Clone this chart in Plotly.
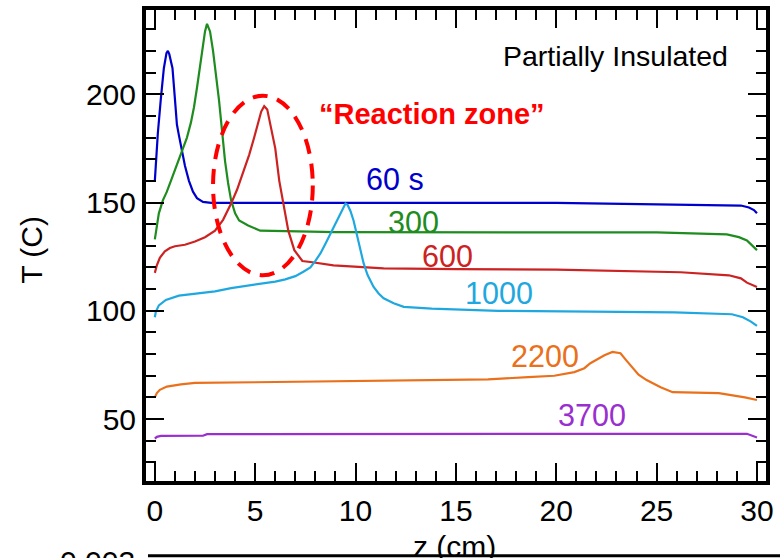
import plotly.graph_objects as go

# ---- data ----
z_60 = [0, 0.08, 0.15, 0.3, 0.45, 0.58, 0.65, 0.72, 0.88, 1.0, 1.1, 1.2, 1.35, 1.5, 1.7, 1.9, 2.1, 2.4, 2.8,
        10, 20, 29.2, 29.6, 29.85, 30]
T_60 = [160, 172, 182, 198, 212, 219, 220, 218.5, 212, 198, 186, 181, 174, 167, 160, 155, 152, 150.3, 149.8,
        149.8, 149.8, 148.6, 147.7, 146.5, 145]

z_300 = [0, 0.05, 0.2, 0.4, 0.6, 0.8, 1.0, 1.2, 1.4, 1.6, 1.8, 1.95, 2.1, 2.25, 2.4, 2.5, 2.6,
         2.75, 2.9, 3.05, 3.2, 3.35, 3.5, 3.65, 3.8, 4.0, 4.2, 4.65, 5.25, 9.0, 15, 20, 25,
         28.5, 29.1, 29.5, 29.8, 30]
T_300 = [133, 136, 145, 151, 155, 160, 165, 170, 175, 180, 187, 194, 203, 213, 223, 229, 232.5,
         229, 220, 209, 197, 183, 169, 159, 151, 145, 141.7, 139.4, 137, 136.3, 136.2, 136.2, 136.2,
         135.3, 134, 132.5, 130, 128]

z_600 = [0, 0.1, 0.25, 0.5, 0.75, 1.0, 1.5, 2.0, 2.5, 3.0, 3.4, 3.8, 4.1, 4.4, 4.7, 4.95, 5.15, 5.3,
         5.45, 5.6, 5.8, 6.0, 6.2, 6.45, 6.65, 6.95, 7.35, 7.85, 8.9, 11.4, 15, 20, 26.2, 28.6,
         29.2, 29.5, 29.75, 30]
T_600 = [117.5, 121, 124.5, 127.5, 129, 129.8, 130.5, 132, 134, 137, 142, 149.5, 156, 164, 172, 180,
         187, 192, 194.5, 193, 184, 175, 160, 147.7, 137, 128, 123, 122.4, 121, 119.6, 119.2, 119,
         117.8, 116.4, 115, 113, 112, 111]

z_1000 = [0, 0.05, 0.2, 0.55, 1.2, 2.2, 3.0, 3.8, 4.6, 5.3, 6.0, 6.5, 7.0, 7.4, 7.75, 8.0, 8.25, 8.5,
          8.75, 9.0, 9.2, 9.4, 9.5, 9.6, 9.75, 9.9, 10.05, 10.2, 10.4, 10.6, 10.9, 11.15, 11.4,
          11.9, 12.4, 13.8, 17.1, 25.9, 28.75, 29.3, 29.7, 30]
T_1000 = [97, 99.5, 102.5, 105, 107, 108, 109, 110.5, 111.5, 112.5, 113.5, 114.5, 116, 118, 120, 123,
          126.5, 131, 135.7, 140, 144, 147.5, 149.5, 149, 146, 141.7, 136, 129, 122, 116.5, 111, 108,
          105.8, 103.5, 101.8, 101, 100, 99.3, 98.4, 97, 95, 93]

z_2200 = [0, 0.1, 0.25, 0.6, 1.3, 2.0, 5, 10, 15, 16.6, 18.6, 19.9, 20.9, 21.4, 21.7, 22.1, 22.4,
          22.8, 23.2, 23.5, 23.8, 24.1, 24.5, 24.9, 25.2, 25.8, 28.1, 29.4, 30]
T_2200 = [60, 62, 63.5, 65, 66, 66.7, 67, 67.5, 68, 68.3, 69.4, 70, 71.7, 73.5, 75.8, 78, 79.5,
          81, 80.4, 77, 73.5, 70.5, 68, 66, 64.7, 62.4, 62, 60, 58.8]

z_3700 = [0, 0.1, 0.3, 2.4, 2.6, 10, 20, 29.5, 29.8, 30]
T_3700 = [41, 41.8, 42.2, 42.3, 43, 43.2, 43.2, 43.2, 42.2, 41.5]

series_names = ["60 s", "300", "600", "1000", "2200", "3700"]
series_colors = ["#0000CC", "#1E8C1E", "#CC2222", "#1FA8E0", "#EA701C", "#9A2FCF"]
series_z = [z_60, z_300, z_600, z_1000, z_2200, z_3700]
series_T = [T_60, T_300, T_600, T_1000, T_2200, T_3700]
# label anchor positions (data coords)
label_z = [11.95, 12.9, 14.56, 17.17, 19.43, 21.8]
label_T = [161, 141.2, 125.1, 108.3, 79, 52.1]

X_RANGE = [-0.44, 30.45]
Y_RANGE = [21.4, 238.9]

FONT = "Liberation Sans, Arial, Helvetica, sans-serif"

fig = go.Figure()
for name, col, zz, tt in zip(series_names, series_colors, series_z, series_T):
    fig.add_trace(go.Scatter(x=zz, y=tt, mode="lines", name=name,
                             line=dict(color=col, width=2.2), showlegend=False))

annotations = []
for name, col, lz, lt in zip(series_names, series_colors, label_z, label_T):
    annotations.append(dict(x=lz, y=lt, xref="x", yref="y", text=name, showarrow=False,
                            font=dict(size=30.5, color=col),
                            xanchor="center", yanchor="middle"))

annotations += [
    dict(x=22.95, y=217.7, xref="x", yref="y", text="Partially Insulated", showarrow=False,
         font=dict(size=28.5, color="black"), xanchor="center", yanchor="middle"),
    dict(x=13.8, y=191, xref="x", yref="y", text="<b>\u201cReaction zone\u201d</b>", showarrow=False,
         font=dict(size=29, color="#FF0000"), xanchor="center", yanchor="middle"),
    dict(x=-0.185, y=(481 - 249) / 472, xref="paper", yref="paper", text="T (C)", showarrow=False,
         textangle=-90, font=dict(size=30, color="black"),
         xanchor="center", yanchor="middle"),
    dict(x=(458 - 146) / 628, y=(481 - 547) / 472, xref="paper", yref="paper", text="z (cm)",
         showarrow=False, font=dict(size=30, color="black"),
         xanchor="center", yanchor="middle"),
    dict(x=(137 - 146) / 628, y=(481 - 562) / 472, xref="paper", yref="paper", text="0.003",
         showarrow=False, font=dict(size=30, color="black"),
         xanchor="right", yanchor="middle"),
]

shapes = [
    dict(type="circle", xref="x", yref="y", x0=2.9, x1=7.87, y0=116.4, y1=199.3,
         line=dict(color="#FF0000", width=4, dash="15px,10px")),
    dict(type="line", xref="paper", yref="paper", x0=(148 - 146) / 628, x1=1.03,
         y0=(481 - 556) / 472, y1=(481 - 556) / 472, line=dict(color="black", width=3)),
]

fig.update_layout(
    width=780, height=558,
    margin=dict(l=146, r=6, t=9, b=77),
    font=dict(family=FONT, size=30, color="black"),
    paper_bgcolor="white", plot_bgcolor="white",
    xaxis=dict(range=X_RANGE, tick0=0, dtick=5, ticks="inside", ticklen=18, tickwidth=2,
               tickcolor="black", showline=True, linewidth=4, linecolor="black", mirror="ticks",
               showgrid=False, zeroline=False,
               minor=dict(dtick=1, ticks="inside", ticklen=10, tickwidth=2, tickcolor="black")),
    yaxis=dict(range=Y_RANGE, tick0=0, dtick=50, ticks="inside", ticklen=18, tickwidth=2,
               tickcolor="black", showline=True, linewidth=4, linecolor="black", mirror="ticks",
               showgrid=False, zeroline=False,
               minor=dict(dtick=10, ticks="inside", ticklen=10, tickwidth=2, tickcolor="black")),
    annotations=annotations,
    shapes=shapes,
)

fig.write_html("out.html")
